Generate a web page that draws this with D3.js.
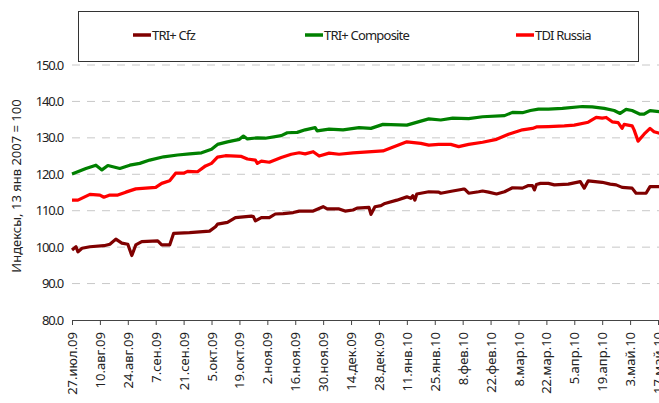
<!DOCTYPE html>
<html lang="ru">
<head>
<meta charset="utf-8">
<title>TRI+ / TDI Russia</title>
<script src="https://cdn.jsdelivr.net/npm/d3@7"></script>
<style>
  body { margin: 0; background: #fff; }
  text { font-family: "Noto Sans", "Open Sans", sans-serif; fill: #222; }
</style>
</head>
<body>
<script>
// series data (date, index value)
const seriesNames = ["TRI+ Cfz", "TRI+ Composite", "TDI Russia"];
const seriesColors = ["#7f0000", "#008000", "#ff0000"];

const cfzDates = ["2009-07-27","2009-07-29","2009-07-30","2009-08-01","2009-08-05","2009-08-12","2009-08-15","2009-08-18","2009-08-21","2009-08-24","2009-08-26","2009-08-28","2009-08-31","2009-09-08","2009-09-10","2009-09-14","2009-09-16","2009-09-24","2009-10-04","2009-10-07","2009-10-08","2009-10-13","2009-10-17","2009-10-25","2009-10-26","2009-10-27","2009-10-30","2009-11-03","2009-11-06","2009-11-10","2009-11-15","2009-11-18","2009-11-25","2009-11-30","2009-12-02","2009-12-08","2009-12-11","2009-12-15","2009-12-17","2009-12-23","2009-12-24","2009-12-26","2009-12-29","2009-12-31","2010-01-06","2010-01-11","2010-01-13","2010-01-14","2010-01-15","2010-01-16","2010-01-22","2010-01-27","2010-01-28","2010-02-03","2010-02-08","2010-02-09","2010-02-11","2010-02-16","2010-02-18","2010-02-21","2010-02-25","2010-03-01","2010-03-05","2010-03-10","2010-03-13","2010-03-15","2010-03-16","2010-03-17","2010-03-19","2010-03-23","2010-03-26","2010-04-02","2010-04-08","2010-04-10","2010-04-12","2010-04-19","2010-04-23","2010-04-26","2010-04-29","2010-05-04","2010-05-06","2010-05-11","2010-05-13","2010-05-18"];
const cfzValues = [99.2,100.1,98.7,99.7,100.1,100.4,100.8,102.2,101.1,100.8,97.7,100.6,101.5,101.7,100.6,100.6,103.8,104.0,104.4,105.6,106.3,106.8,108.1,108.5,108.4,107.2,108.1,108.1,109.1,109.2,109.5,109.9,109.9,111.1,110.5,110.5,109.9,110.2,110.7,110.9,109.0,111.1,111.4,112.0,112.9,113.8,113.4,114.1,112.9,114.6,115.2,115.1,114.8,115.4,115.9,115.9,114.8,115.2,115.4,115.1,114.6,115.2,116.3,116.2,116.9,116.9,115.7,117.2,117.5,117.5,117.1,117.3,118.0,116.2,118.2,117.8,117.3,117.1,116.4,116.2,114.8,114.8,116.6,116.6];

const compDates = ["2009-07-27","2009-08-03","2009-08-08","2009-08-11","2009-08-14","2009-08-20","2009-08-25","2009-08-30","2009-09-04","2009-09-11","2009-09-18","2009-09-24","2009-09-30","2009-10-05","2009-10-08","2009-10-13","2009-10-19","2009-10-21","2009-10-23","2009-10-28","2009-11-01","2009-11-09","2009-11-12","2009-11-17","2009-11-21","2009-11-26","2009-11-27","2009-12-03","2009-12-10","2009-12-18","2009-12-24","2009-12-30","2010-01-11","2010-01-18","2010-01-22","2010-01-28","2010-02-03","2010-02-11","2010-02-18","2010-03-01","2010-03-05","2010-03-10","2010-03-14","2010-03-18","2010-03-23","2010-03-30","2010-04-09","2010-04-14","2010-04-20","2010-04-25","2010-04-28","2010-05-01","2010-05-04","2010-05-08","2010-05-10","2010-05-13","2010-05-18"];
const compValues = [120.1,121.6,122.5,121.2,122.4,121.6,122.5,123.0,123.9,124.8,125.3,125.6,125.9,126.9,128.2,128.9,129.6,130.5,129.7,130.0,129.9,130.6,131.4,131.5,132.2,132.8,131.9,132.4,132.2,132.8,132.6,133.7,133.5,134.6,135.2,134.9,135.4,135.3,135.8,136.1,137.0,136.9,137.5,137.9,137.9,138.1,138.6,138.5,138.1,137.5,136.7,137.8,137.5,136.5,136.5,137.5,137.2];

const tdiDates = ["2009-07-27","2009-07-30","2009-08-05","2009-08-10","2009-08-12","2009-08-15","2009-08-19","2009-08-23","2009-08-28","2009-09-02","2009-09-07","2009-09-10","2009-09-14","2009-09-17","2009-09-21","2009-09-23","2009-09-28","2009-10-02","2009-10-05","2009-10-08","2009-10-12","2009-10-20","2009-10-23","2009-10-27","2009-10-28","2009-10-30","2009-11-03","2009-11-09","2009-11-14","2009-11-18","2009-11-21","2009-11-25","2009-11-28","2009-12-03","2009-12-08","2009-12-15","2009-12-30","2010-01-11","2010-01-18","2010-01-22","2010-01-27","2010-02-02","2010-02-06","2010-02-11","2010-02-18","2010-02-25","2010-03-03","2010-03-10","2010-03-15","2010-03-17","2010-03-23","2010-03-31","2010-04-05","2010-04-12","2010-04-16","2010-04-19","2010-04-21","2010-04-24","2010-04-27","2010-04-29","2010-04-30","2010-05-04","2010-05-05","2010-05-07","2010-05-10","2010-05-13","2010-05-15","2010-05-18"];
const tdiValues = [112.9,112.9,114.5,114.3,113.7,114.3,114.3,115.1,116.0,116.2,116.4,117.5,118.2,120.3,120.3,120.8,120.7,122.3,123.0,124.7,125.1,124.9,124.2,123.9,123.0,123.6,123.3,124.6,125.5,125.9,125.6,126.2,125.0,125.8,125.5,125.9,126.4,128.9,128.5,128.0,128.2,128.2,127.6,128.2,128.8,129.6,131.0,132.2,132.6,133.0,133.1,133.3,133.5,134.3,135.6,135.4,135.6,134.4,134.2,132.6,133.7,133.3,132.2,129.1,131.0,132.6,131.7,131.2];

const yTicks = [80, 90, 100, 110, 120, 130, 140, 150];
const xTickLabels = ["27.июл.09","10.авг.09","24.авг.09","7.сен.09","21.сен.09","5.окт.09","19.окт.09","2.ноя.09","16.ноя.09","30.ноя.09","14.дек.09","28.дек.09","11.янв.10","25.янв.10","8.фев.10","22.фев.10","8.мар.10","22.мар.10","5.апр.10","19.апр.10","3.май.10","17.май.10"];
const yTitle = "Индексы, 13 янв 2007 = 100";

const width = 659, height = 403;
const parse = d3.timeParse("%Y-%m-%d");
const start = parse("2009-07-27");
const xTickDates = xTickLabels.map((d, i) => d3.timeDay.offset(start, 14 * i));

const svg = d3.select("body").append("svg")
  .attr("width", width).attr("height", height);

const x = d3.scaleTime()
  .domain([start, xTickDates[xTickDates.length - 1]])
  .range([72, 658]);
const y = d3.scaleLinear().domain([80, 150]).range([320, 65]);

// gridlines
svg.append("g").selectAll("line")
  .data(yTicks.filter(d => d > 80))
  .enter().append("line")
  .attr("x1", 72).attr("x2", width)
  .attr("y1", d => y(d)).attr("y2", d => y(d))
  .attr("stroke", "#c8c8c8").attr("stroke-width", 1)
  .attr("stroke-dasharray", "8,7");

// y labels
svg.append("g").selectAll("text")
  .data(yTicks)
  .enter().append("text")
  .attr("x", 63).attr("y", d => y(d) + 4.5)
  .attr("text-anchor", "end")
  .style("font-size", "13px").style("letter-spacing", "-1.2px")
  .text(d => d.toFixed(1));

svg.append("text")
  .attr("transform", "translate(21,186) rotate(-90)")
  .attr("text-anchor", "middle")
  .style("font-size", "13px")
  .text(yTitle);

// x axis
const xAxis = d3.axisBottom(x)
  .tickValues(xTickDates)
  .tickSize(5)
  .tickFormat((d, i) => xTickLabels[i]);
const gX = svg.append("g").attr("transform", "translate(0,320)").call(xAxis);
gX.select(".domain").attr("d", `M72.5,0.5H${width}`).attr("stroke", "#444");
gX.selectAll(".tick line").attr("stroke", "#444");
gX.selectAll(".tick text")
  .attr("transform", "rotate(-90)")
  .attr("text-anchor", "end")
  .attr("x", -12).attr("y", 0).attr("dy", "0.35em")
  .style("font-size", "13px")
  .style("font-family", "'Noto Sans', sans-serif")
  .attr("fill", "#222");

// lines
const line = d3.line()
  .x(d => x(d.date))
  .y(d => y(d.value));

const series = [
  [cfzDates, cfzValues],
  [compDates, compValues],
  [tdiDates, tdiValues]
].map(([ds, vs]) => ds.map((d, i) => ({ date: parse(d), value: vs[i] })));

svg.append("g").selectAll("path")
  .data(series)
  .enter().append("path")
  .attr("d", line)
  .attr("fill", "none")
  .attr("stroke", (d, i) => seriesColors[i])
  .attr("stroke-width", 3.2)
  .attr("stroke-linejoin", "round");

// legend
svg.append("rect")
  .attr("x", 78.5).attr("y", 11.5)
  .attr("width", 560).attr("height", 50)
  .attr("fill", "#fff").attr("stroke", "#333");

const legendX = [133, 305, 516];
const lg = svg.append("g").selectAll("g")
  .data(seriesNames)
  .enter().append("g")
  .attr("transform", (d, i) => `translate(${legendX[i]},35)`);
lg.append("line")
  .attr("x1", 0).attr("x2", 18)
  .attr("stroke", (d, i) => seriesColors[i])
  .attr("stroke-width", 3.5);
lg.append("text")
  .attr("x", 19).attr("y", 4.5)
  .style("font-size", "13px").style("letter-spacing", "-0.8px")
  .text(d => d);
</script>
</body>
</html>
